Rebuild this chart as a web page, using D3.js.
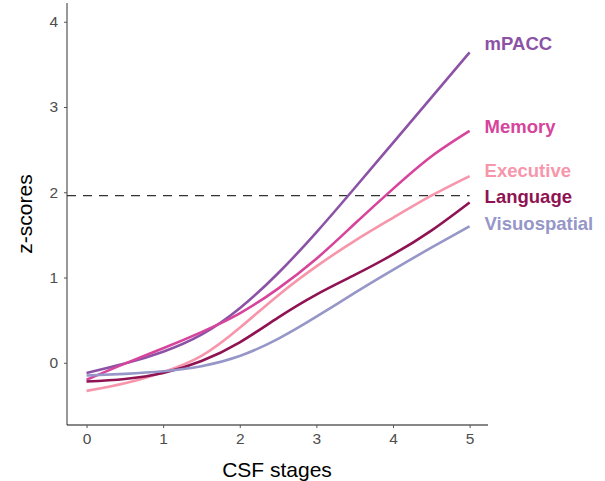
<!DOCTYPE html>
<html>
<head>
<meta charset="utf-8">
<script src="https://cdn.jsdelivr.net/npm/d3@7"></script>
<style>
  html, body { margin: 0; padding: 0; background: #fff; }
  svg { display: block; font-family: "Liberation Sans", Arial, sans-serif; }
</style>
</head>
<body>
<div id="chart"></div>
<script>
// CSF stages on x, z-scores on y
const stages = [0, 0.5, 1, 1.5, 2, 2.5, 3, 3.5, 4, 4.5, 5];

const mpacc        = [-0.12, -0.01, 0.13, 0.33, 0.64, 1.05, 1.53, 2.05, 2.58, 3.11, 3.64];
const memory       = [-0.20, -0.01, 0.17, 0.36, 0.58, 0.87, 1.22, 1.63, 2.04, 2.42, 2.72];
const executive    = [-0.33, -0.24, -0.11, 0.08, 0.41, 0.79, 1.13, 1.43, 1.70, 1.96, 2.19];
const language     = [-0.22, -0.19, -0.12, 0.02, 0.24, 0.53, 0.80, 1.03, 1.27, 1.55, 1.88];
const visuospatial = [-0.15, -0.13, -0.10, -0.04, 0.08, 0.28, 0.54, 0.82, 1.09, 1.35, 1.60];

const seriesNames  = ["mPACC", "Memory", "Executive", "Language", "Visuospatial"];
const seriesValues = [mpacc, memory, executive, language, visuospatial];
const seriesColors = ["#8b52a6", "#d6449b", "#f796ab", "#8f1352", "#9696c8"];
// label heights (z units) at the right end of each line
const labelZ       = [3.74, 2.77, 2.26, 1.95, 1.63];

const xTicks = [0, 1, 2, 3, 4, 5];
const yTicks = [0, 1, 2, 3, 4];
const cutoff = 1.96;

const width = 605, height = 481;

const svg = d3.select("#chart")
  .append("svg")
  .attr("width", width)
  .attr("height", height);

const x = d3.scaleLinear().domain([-0.255, 5.24]).range([67, 488]);
const y = d3.scaleLinear().domain([-0.73, 4.22]).range([425, 3]);

// ------- AXES -------
const yAxis = svg.append("g")
  .attr("transform", `translate(${x.range()[0]},0)`)
  .call(d3.axisLeft(y).tickValues(yTicks).tickSize(3).tickPadding(6).tickFormat(d3.format("d")));

yAxis.select(".domain").attr("stroke", "#7f7f7f").attr("stroke-width", 1.6);
yAxis.selectAll(".tick line").attr("stroke", "#555");
yAxis.selectAll("text")
  .attr("fill", "#4d4d4d")
  .attr("font-size", 15.5)
  .style("font-family", "'Liberation Sans', Arial, sans-serif");

const xAxis = svg.append("g")
  .attr("transform", `translate(0,${y.range()[0]})`)
  .call(d3.axisBottom(x).tickValues(xTicks).tickSize(3).tickPadding(5).tickFormat(d3.format("d")));

xAxis.select(".domain").attr("stroke", "#111").attr("stroke-width", 1.2);
xAxis.selectAll(".tick line").attr("stroke", "#555");
xAxis.selectAll("text")
  .attr("fill", "#4d4d4d")
  .attr("font-size", 15.5)
  .style("font-family", "'Liberation Sans', Arial, sans-serif");

// remove outer ticks from domain paths
yAxis.select(".domain").attr("d", `M0,${y.range()[1]}V${y.range()[0]}`);
xAxis.select(".domain").attr("d", `M${x.range()[0]},0H${x.range()[1]}`);

// ------- CUTOFF LINE -------
svg.append("line")
  .attr("x1", x.range()[0])
  .attr("x2", x(5))
  .attr("y1", y(cutoff))
  .attr("y2", y(cutoff))
  .attr("stroke", "#333")
  .attr("stroke-width", 1.2)
  .attr("stroke-dasharray", "9,7");

// ------- LINES -------
const line = d3.line()
  .x((d, i) => x(stages[i]))
  .y(d => y(d))
  .curve(d3.curveNatural);

svg.selectAll("path.series")
  .data(seriesValues)
  .enter()
  .append("path")
  .attr("class", "series")
  .attr("fill", "none")
  .attr("stroke", (d, i) => seriesColors[i])
  .attr("stroke-width", 2.6)
  .attr("d", d => line(d));

// ------- END LABELS -------
svg.selectAll("text.series-label")
  .data(seriesNames)
  .enter()
  .append("text")
  .attr("class", "series-label")
  .attr("x", x(5) + 15)
  .attr("y", (d, i) => y(labelZ[i]))
  .attr("dy", "0.35em")
  .attr("fill", (d, i) => seriesColors[i])
  .attr("font-size", 18.5)
  .attr("font-weight", "bold")
  .text(d => d);

// ------- AXIS TITLES -------
svg.append("text")
  .attr("x", 277)
  .attr("y", 477)
  .attr("text-anchor", "middle")
  .attr("fill", "#000")
  .attr("font-size", 21)
  .text("CSF stages");

svg.append("text")
  .attr("transform", `translate(32,214) rotate(-90)`)
  .attr("text-anchor", "middle")
  .attr("fill", "#000")
  .attr("font-size", 21)
  .text("z-scores");
</script>
</body>
</html>
